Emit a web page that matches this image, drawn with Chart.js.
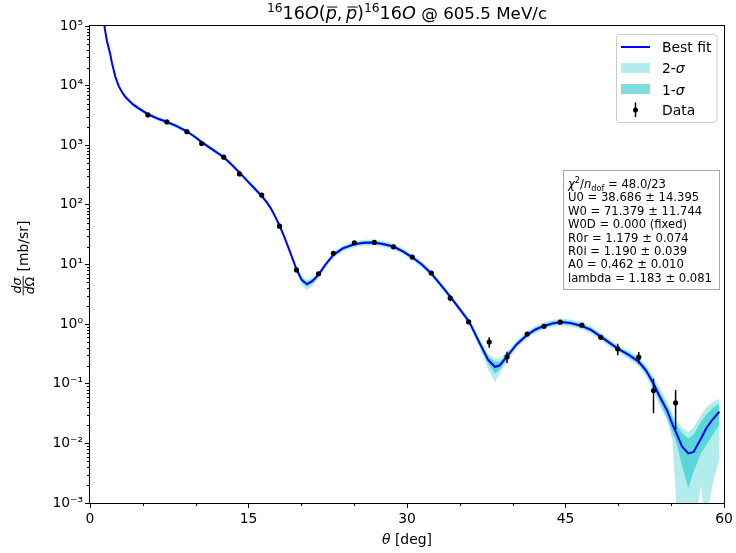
<!DOCTYPE html>
<html>
<head>
<meta charset="utf-8">
<script src="https://cdn.jsdelivr.net/npm/chart.js@4.4.1/dist/chart.umd.min.js"></script>
<style>
  html, body { margin: 0; padding: 0; background: #fff; }
  #wrap { width: 736px; height: 553px; }
</style>
</head>
<body>
<div id="wrap"><canvas id="xsec" width="736" height="553"></canvas></div>
<script>
// angles of the fit curve (deg)
const thetaFit = [1.2, 1.4, 1.6, 1.9, 2.1, 2.4, 2.7, 3.0, 3.3, 3.8, 4.1, 4.5, 5.5, 6.5, 7.3, 8.2, 9.2, 10.0, 10.6, 11.5, 12.66, 13.46, 14.15,
  14.95, 15.6, 16.25, 16.7, 17.14, 17.54, 17.94, 18.34, 18.74, 19.14, 19.54, 20.04, 20.53, 21.03, 21.63, 22.33, 23.03, 23.92, 25.02, 25.92, 26.81,
  27.71, 28.71, 29.6, 30.5, 31.4, 32.3, 33.19, 34.09, 34.99, 35.88, 36.88, 37.68, 38.33, 38.77, 39.47, 40.37,
  41.37, 42.16, 42.96, 43.76, 44.56, 45.45, 46.55, 47.45, 48.34, 49.14, 49.94, 50.94, 51.93, 52.63, 53.33, 53.93,
  54.62, 55.12, 55.52, 56.02, 56.62, 57.12, 57.81, 58.31, 58.91, 59.56];

// best fit dsigma/dOmega (mb/sr)
const fitBest = [1.6e5, 9.1e4, 5.6e4, 3.47e4, 2.3e4, 1.41e4, 1.0e4, 7940, 6600, 5370, 4790, 4270, 3310, 2750, 2450, 2090, 1700, 1350, 1120, 871, 631, 462, 347,
  245, 186, 140, 112, 86, 63, 44.7, 30.5, 20.0, 12.9, 8.32, 5.50, 4.68, 5.25, 6.76, 10.2, 14.5, 18.6, 21.9, 23.2, 23.4,
  22.1, 20.0, 16.6, 13.2, 10.0, 7.08, 4.57, 2.88, 1.78, 1.10, 0.479, 0.251, 0.191, 0.204, 0.288, 0.457,
  0.661, 0.813, 0.933, 1.023, 1.084, 1.047, 0.933, 0.794, 0.617, 0.490, 0.389, 0.309, 0.234, 0.166, 0.100, 0.060,
  0.0355, 0.0209, 0.0145, 0.0089, 0.0068, 0.0072, 0.0120, 0.0178, 0.0251, 0.0339];

// 2-sigma band
const band2Up = [1.72e5, 9.9e4, 6.1e4, 3.76e4, 2.5e4, 1.53e4, 1.08e4, 8610, 7150, 5820, 5190, 4630, 3590, 2980, 2660, 2270, 1840, 1460, 1210, 944, 684, 501, 376,
  269, 204, 153, 123, 94.3, 69, 49.0, 33.4, 21.9, 14.3, 9.33, 6.31, 5.50, 6.03, 7.59, 11.5, 16.2, 20.9, 24.5, 26.0, 26.3,
  24.8, 22.4, 18.6, 14.8, 11.2, 7.94, 5.13, 3.23, 2.0, 1.26, 0.562, 0.316, 0.266, 0.263, 0.347, 0.525,
  0.759, 0.933, 1.07, 1.17, 1.245, 1.20, 1.07, 0.912, 0.708, 0.562, 0.447, 0.363, 0.282, 0.204, 0.132, 0.083,
  0.050, 0.0316, 0.024, 0.0182, 0.0155, 0.0182, 0.0295, 0.0398, 0.049, 0.056];
const band2Lo = [1.46e5, 8.4e4, 5.2e4, 3.2e4, 2.1e4, 1.30e4, 9200, 7330, 6090, 4950, 4420, 3940, 3060, 2540, 2260, 1930, 1570, 1250, 1030, 804, 582, 426, 320,
  223, 170, 128, 102, 78.4, 57.5, 40.7, 27.8, 18.2, 11.6, 7.41, 4.47, 3.72, 4.37, 5.89, 9.1, 12.9, 16.6, 19.5, 20.7, 20.9,
  19.7, 17.8, 14.8, 11.8, 8.91, 6.31, 4.07, 2.57, 1.59, 0.955, 0.398, 0.174, 0.107, 0.148, 0.234, 0.398,
  0.576, 0.708, 0.813, 0.891, 0.944, 0.912, 0.813, 0.692, 0.537, 0.427, 0.339, 0.263, 0.195, 0.132, 0.074, 0.042,
  0.024, 0.0112, 0.00079, 0.00032, 0.00025, 0.0004, 0.00186, 0.0005, 0.002, 0.0056];

// 1-sigma band
const band1Up = [1.65e5, 9.5e4, 5.8e4, 3.61e4, 2.4e4, 1.47e4, 1.04e4, 8280, 6880, 5600, 4990, 4450, 3450, 2870, 2550, 2180, 1770, 1410, 1170, 908, 657, 481, 362,
  257, 195, 147, 117, 90, 66, 46.8, 31.9, 20.9, 13.6, 8.91, 5.96, 5.07, 5.62, 7.16, 10.8, 15.3, 19.7, 23.2, 24.5, 24.8,
  23.4, 21.2, 17.6, 14.0, 10.6, 7.50, 4.84, 3.05, 1.88, 1.18, 0.519, 0.282, 0.234, 0.232, 0.316, 0.490,
  0.708, 0.871, 1.0, 1.10, 1.16, 1.12, 1.0, 0.851, 0.661, 0.525, 0.417, 0.335, 0.257, 0.184, 0.115, 0.071,
  0.0427, 0.0275, 0.0204, 0.0151, 0.0120, 0.0141, 0.0229, 0.0302, 0.0389, 0.0468];
const band1Lo = [1.52e5, 8.7e4, 5.4e4, 3.33e4, 2.2e4, 1.36e4, 9600, 7620, 6330, 5150, 4590, 4090, 3170, 2640, 2350, 2000, 1630, 1290, 1070, 835, 605, 443, 333,
  234, 178, 134, 107, 82.1, 60.2, 42.7, 29.1, 19.1, 12.2, 7.76, 5.01, 4.22, 4.79, 6.31, 9.65, 13.6, 17.6, 20.7, 21.9, 22.1,
  20.9, 18.9, 15.7, 12.5, 9.44, 6.68, 4.31, 2.72, 1.68, 1.03, 0.437, 0.214, 0.148, 0.174, 0.260, 0.426,
  0.617, 0.759, 0.871, 0.955, 1.01, 0.977, 0.871, 0.741, 0.575, 0.457, 0.363, 0.285, 0.214, 0.148, 0.087, 0.050,
  0.0269, 0.0151, 0.0100, 0.0042, 0.00178, 0.0033, 0.0068, 0.0093, 0.0138, 0.0204];

// measured points
const thetaData = [5.48, 7.28, 9.17, 10.57, 12.66, 14.15, 16.25, 17.94, 19.54, 21.63, 23.03, 25.02, 26.91, 28.71, 30.5,
  32.3, 34.09, 35.83, 37.78, 39.47, 41.37, 42.96, 44.5, 46.55, 48.34, 49.94, 51.93, 53.33, 55.42];
const sigmaData = [3220, 2460, 1690, 1070, 630, 331, 146, 44, 8.1, 7.0, 15.4, 23.1, 23.5, 19.8, 13.3,
  7.2, 2.73, 1.09, 0.50, 0.283, 0.68, 0.92, 1.08, 0.96, 0.60, 0.385, 0.279, 0.077, 0.048];
const sigmaErr = [130, 100, 70, 45, 25, 14, 6, 2, 0.4, 0.35, 0.7, 0.9, 0.9, 0.8, 0.6,
  0.45, 0.3, 0.06, 0.1, 0.06, 0.05, 0.06, 0.07, 0.05, 0.05, 0.085, 0.062, 0.045, 0.031];

const xTicks = [0, 15, 30, 45, 60];
const xMinorTicks = [5, 10, 20, 25, 35, 40, 50, 55];
const yTicks = [1e-3, 1e-2, 1e-1, 1, 10, 100, 1e3, 1e4, 1e5];
const yTickLabels = ['10⁻³', '10⁻²', '10⁻¹', '10⁰', '10¹', '10²', '10³', '10⁴', '10⁵'];

const fitLines = [
  'U0 = 38.686 ± 14.395',
  'W0 = 71.379 ± 11.744',
  'W0D = 0.000 (fixed)',
  'R0r = 1.179 ± 0.074',
  'R0i = 1.190 ± 0.039',
  'A0 = 0.462 ± 0.010',
  'lambda = 1.183 ± 0.081'
];

const FAM = '"DejaVu Sans", sans-serif';
const C2 = 'rgba(0,191,191,0.3)';
const C1 = 'rgba(0,191,191,0.5)';

function fnt(size, italic) {
  return (italic ? 'italic ' : '') + size + 'px ' + FAM;
}

// draw a row of text pieces: [text, size, italic, dy, bar]
function drawRuns(ctx, parts, x, y, align) {
  let total = 0;
  parts.forEach(p => {
    ctx.font = fnt(p[1], p[2]);
    p.w = ctx.measureText(p[0]).width;
    total += p.w;
  });
  let cx = align === 'center' ? x - total / 2 : (align === 'right' ? x - total : x);
  parts.forEach(p => {
    ctx.font = fnt(p[1], p[2]);
    const yy = y + (p[3] || 0);
    ctx.fillText(p[0], cx, yy);
    if (p[4]) {
      ctx.save();
      ctx.lineWidth = 1;
      ctx.beginPath();
      ctx.moveTo(cx + 1.5, yy - p[1] * 0.68);
      ctx.lineTo(cx + p.w + 0.5, yy - p[1] * 0.68);
      ctx.stroke();
      ctx.restore();
    }
    cx += p.w;
  });
  return total;
}

const pts = ys => thetaFit.map((t, i) => ({ x: t, y: ys[i] }));

const errorBars = {
  id: 'errorBars',
  afterDatasetsDraw(chart) {
    const { ctx, chartArea: a, scales: { x, y } } = chart;
    ctx.save();
    ctx.beginPath();
    ctx.rect(a.left, a.top, a.right - a.left, a.bottom - a.top);
    ctx.clip();
    ctx.strokeStyle = '#000';
    ctx.lineWidth = 1.5;
    thetaData.forEach((t, i) => {
      const px = x.getPixelForValue(t);
      ctx.beginPath();
      ctx.moveTo(px, y.getPixelForValue(sigmaData[i] + sigmaErr[i]));
      ctx.lineTo(px, y.getPixelForValue(sigmaData[i] - sigmaErr[i]));
      ctx.stroke();
    });
    ctx.restore();
  }
};

const decorations = {
  id: 'decorations',
  afterDraw(chart) {
    const { ctx, chartArea: a, scales: { x, y } } = chart;
    ctx.save();
    ctx.strokeStyle = '#000';
    ctx.fillStyle = '#000';

    // frame
    ctx.lineWidth = 1;
    ctx.strokeRect(a.left - 0.5, a.top - 0.5, a.right - a.left + 1, a.bottom - a.top + 1);

    // minor ticks
    ctx.beginPath();
    xMinorTicks.forEach(v => {
      const px = Math.round(x.getPixelForValue(v)) + 0.5;
      ctx.moveTo(px, a.bottom);
      ctx.lineTo(px, a.bottom + 3);
    });
    for (let d = -3; d < 5; d++) {
      for (let m = 2; m < 10; m++) {
        const py = Math.round(y.getPixelForValue(m * Math.pow(10, d))) + 0.5;
        ctx.moveTo(a.left, py);
        ctx.lineTo(a.left - 3, py);
      }
    }
    ctx.stroke();

    ctx.textBaseline = 'alphabetic';
    const cx = (a.left + a.right) / 2;

    // title
    const S = 17.6, s = 12.3;
    drawRuns(ctx, [
      ['16', s, false, -7], ['16', S, false], ['O', S, true], ['(', S, false],
      ['p', S, true, 0, true], [',', S, false], ['\u2009', S, false], ['p', S, true, 0, true],
      [')', S, false], ['16', s, false, -7], ['16', S, false], ['O', S, true],
      [' @ 605.5 MeV/c', 16.7, false]
    ], cx, 19, 'center');

    // x label
    drawRuns(ctx, [['θ', 13.9, true], [' [deg]', 13.9, false]], cx, 544, 'center');

    // y label (rotated)
    ctx.save();
    ctx.translate(28, 258);
    ctx.rotate(-Math.PI / 2);
    const F = 12.5;
    ctx.font = fnt(F, true);
    const wNum = ctx.measureText('dσ').width;
    const wDen = ctx.measureText('d').width + (ctx.font = fnt(F, false), ctx.measureText('Ω').width);
    const wFr = Math.max(wNum, wDen) + 2;
    ctx.font = fnt(13.9, false);
    const wRest = ctx.measureText(' [mb/sr]').width;
    const x0 = -(wFr + wRest) / 2;
    const axisY = -4.8;
    drawRuns(ctx, [['dσ', F, true]], x0 + wFr / 2, axisY - 2.5, 'center');
    drawRuns(ctx, [['d', F, true], ['Ω', F, false]], x0 + wFr / 2, axisY + 11, 'center');
    ctx.lineWidth = 0.9;
    ctx.beginPath();
    ctx.moveTo(x0, axisY);
    ctx.lineTo(x0 + wFr, axisY);
    ctx.stroke();
    ctx.font = fnt(13.9, false);
    ctx.fillText(' [mb/sr]', x0 + wFr, 0);
    ctx.restore();

    // legend
    ctx.save();
    ctx.beginPath();
    ctx.roundRect(616.5, 34.5, 100.5, 88, 3);
    ctx.fillStyle = 'rgba(255,255,255,0.8)';
    ctx.fill();
    ctx.strokeStyle = '#cccccc';
    ctx.lineWidth = 1;
    ctx.stroke();
    ctx.strokeStyle = '#0000ff';
    ctx.lineWidth = 2;
    ctx.beginPath();
    ctx.moveTo(621, 47);
    ctx.lineTo(650, 47);
    ctx.stroke();
    ctx.fillStyle = C2;
    ctx.fillRect(621, 63, 29, 10);
    ctx.fillStyle = C1;
    ctx.fillRect(621, 84, 29, 10);
    ctx.strokeStyle = '#000';
    ctx.lineWidth = 1.5;
    ctx.beginPath();
    ctx.moveTo(635.5, 102.5);
    ctx.lineTo(635.5, 117);
    ctx.stroke();
    ctx.fillStyle = '#000';
    ctx.beginPath();
    ctx.arc(635.5, 110, 2.5, 0, Math.PI * 2);
    ctx.fill();
    drawRuns(ctx, [['Best fit', 13.9, false]], 662, 52, 'left');
    drawRuns(ctx, [['2-', 13.9, false], ['σ', 13.9, true]], 662, 73, 'left');
    drawRuns(ctx, [['1-', 13.9, false], ['σ', 13.9, true]], 662, 94.5, 'left');
    drawRuns(ctx, [['Data', 13.9, false]], 662, 115, 'left');
    ctx.restore();

    // fit parameter box
    ctx.save();
    ctx.fillStyle = 'rgba(255,255,255,0.8)';
    ctx.fillRect(563.5, 170.5, 156, 119);
    ctx.strokeStyle = '#a8a8a8';
    ctx.lineWidth = 1;
    ctx.strokeRect(563.5, 170.5, 156, 119);
    ctx.fillStyle = '#000';
    const T = 11.6, lx = 568, ly = 188, dl = 13.4;
    drawRuns(ctx, [['χ', T, true], ['2', 8.2, false, -4.8], ['/', T, false], ['n', T, true],
      ['dof', 8.2, false, 2.5], [' = 48.0/23', T, false]], lx, ly, 'left');
    fitLines.forEach((t, i) => drawRuns(ctx, [[t, T, false]], lx, ly + dl * (i + 1), 'left'));
    ctx.restore();

    ctx.restore();
  }
};

Chart.defaults.font.family = FAM;
Chart.defaults.color = '#000';

new Chart(document.getElementById('xsec'), {
  type: 'line',
  data: {
    datasets: [
      {
        label: 'Data',
        data: thetaData.map((t, i) => ({ x: t, y: sigmaData[i] })),
        showLine: false,
        pointRadius: 2.6,
        pointBorderWidth: 0,
        pointBackgroundColor: '#000',
        order: 0
      },
      {
        label: 'Best fit',
        data: pts(fitBest),
        borderColor: '#0000ff',
        borderWidth: 2,
        pointRadius: 0,
        tension: 0,
        fill: false,
        order: 1
      },
      {
        label: '1-σ',
        data: pts(band1Up),
        borderWidth: 0,
        borderColor: 'rgba(0,0,0,0)',
        backgroundColor: C1,
        pointRadius: 0,
        fill: 3,
        order: 2
      },
      {
        label: '1-σ low',
        data: pts(band1Lo),
        borderWidth: 0,
        borderColor: 'rgba(0,0,0,0)',
        pointRadius: 0,
        fill: false,
        order: 2
      },
      {
        label: '2-σ',
        data: pts(band2Up),
        borderWidth: 0,
        borderColor: 'rgba(0,0,0,0)',
        backgroundColor: C2,
        pointRadius: 0,
        fill: 5,
        order: 3
      },
      {
        label: '2-σ low',
        data: pts(band2Lo),
        borderWidth: 0,
        borderColor: 'rgba(0,0,0,0)',
        pointRadius: 0,
        fill: false,
        order: 3
      }
    ]
  },
  options: {
    responsive: false,
    animation: false,
    devicePixelRatio: 1,
    layout: { padding: { left: 0, right: 12, top: 26, bottom: 0 } },
    plugins: {
      legend: { display: false },
      tooltip: { enabled: false },
      title: { display: false }
    },
    scales: {
      x: {
        type: 'linear',
        min: 0,
        max: 60,
        border: { display: false },
        grid: { drawOnChartArea: false, drawTicks: true, tickLength: 5, color: '#000', lineWidth: 1 },
        ticks: { font: { size: 13.9 }, color: '#000', padding: 3, maxRotation: 0, autoSkip: false },
        afterBuildTicks: scale => { scale.ticks = xTicks.map(v => ({ value: v })); },
        afterFit: scale => { scale.height = 50; }
      },
      y: {
        type: 'logarithmic',
        min: 1e-3,
        max: 1e5,
        border: { display: false },
        grid: { drawOnChartArea: false, drawTicks: true, tickLength: 5, color: '#000', lineWidth: 1 },
        ticks: {
          font: { size: 13.9 },
          color: '#000',
          padding: 2,
          autoSkip: false,
          callback: (v, i) => yTickLabels[i]
        },
        afterBuildTicks: scale => { scale.ticks = yTicks.map(v => ({ value: v })); },
        afterFit: scale => { scale.width = 90; }
      }
    }
  },
  plugins: [errorBars, decorations]
});
</script>
</body>
</html>
